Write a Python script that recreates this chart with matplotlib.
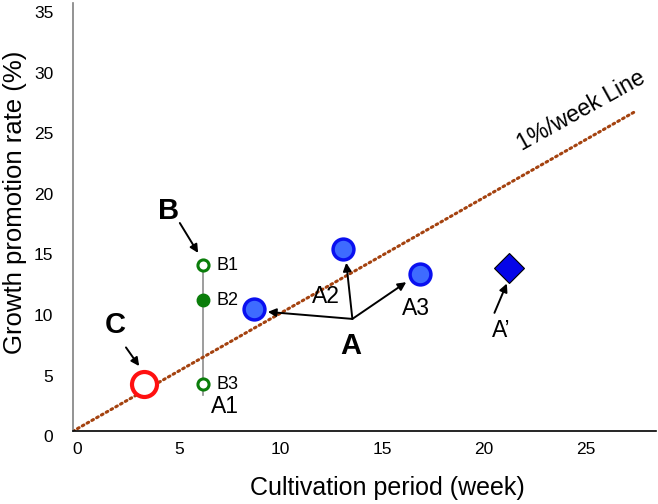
import matplotlib
matplotlib.use("Agg")
import matplotlib.pyplot as plt
from matplotlib.transforms import ScaledTranslation

plt.rcParams["font.family"] = ["Liberation Sans", "DejaVu Sans"]

# data
line_x = [0, 27.6]
line_y = [0, 26.3]

a_x = [8.9, 13.3, 17.1]
a_y = [10.05, 15.0, 13.0]
a_prime = (21.45, 13.5)

b_x = 6.42
b_y = [13.7, 10.8, 3.9]
b_labels = ["B1", "B2", "B3"]
b_range = (3.0, 13.7)

c_point = (3.5, 3.9)

x_ticks = [0, 5, 10, 15, 20, 25]
y_ticks = [0, 5, 10, 15, 20, 25, 30, 35]

fig = plt.figure(figsize=(6.58, 5.04), dpi=100)
ax = fig.add_axes([0.1105, 0.1442, 0.8865, 0.8493])

# 1%/week reference line
ax.plot(line_x, line_y, color="#a4420f", lw=2.2, linestyle=(0, (0.6, 1.2)),
        dash_capstyle="round", zorder=2)
ax.text(25.0, 26.4, "1%/week Line", rotation=29, ha="center", va="center",
        fontsize=16.5)

# B group
ax.plot([b_x, b_x], b_range, color="#8c8c8c", lw=1.2, zorder=1)
ax.plot(b_x, b_y[0], "o", ms=8, mfc="white", mec="#0a7d0a", mew=2.2, zorder=3)
ax.plot(b_x, b_y[1], "o", ms=9, mfc="#0a7d0a", mec="#0a7d0a", mew=1, zorder=3)
ax.plot(b_x, b_y[2], "o", ms=8, mfc="white", mec="#0a7d0a", mew=2.2, zorder=3)
for lab, yy in zip(b_labels, b_y):
    ax.text(b_x + 0.65, yy, lab, ha="left", va="center", fontsize=13)

# C point
ax.plot(*c_point, "o", ms=18, mfc="white", mec="#ff1010", mew=3, zorder=3)

# A group
ax.plot(a_x, a_y, "o", ms=15, mfc="#3e6bff", mec="#0a10f0", mew=2.5,
        linestyle="none", zorder=3)
ax.plot(*a_prime, "D", ms=15, mfc="#0505e8", mec="black", mew=0.8, zorder=3)

arrow = dict(arrowstyle="-|>", color="black", lw=1.4, mutation_scale=12,
             shrinkA=0, shrinkB=0)
origin = (13.76, 9.27)
for tx, ty in [(9.6, 9.85), (13.46, 13.9), (16.41, 12.3)]:
    ax.annotate("", xy=(tx, ty), xytext=origin, arrowprops=arrow)
ax.annotate("", xy=(21.36, 12.19), xytext=(20.75, 9.77), arrowprops=arrow)
ax.annotate("", xy=(6.17, 14.71), xytext=(5.27, 17.18), arrowprops=arrow)
ax.annotate("", xy=(3.27, 5.38), xytext=(2.62, 6.92), arrowprops=arrow)

ax.text(13.7, 7.05, "A", fontsize=21, fontweight="bold", ha="center", va="center")
ax.text(4.7, 18.17, "B", fontsize=21, fontweight="bold", ha="center", va="center")
ax.text(2.08, 8.76, "C", fontsize=21, fontweight="bold", ha="center", va="center")
ax.text(12.48, 11.09, "A2", fontsize=16.5, ha="center", va="center")
ax.text(16.9, 10.13, "A3", fontsize=16.5, ha="center", va="center")
ax.text(21.08, 8.34, "A\u2019", fontsize=16.5, ha="center", va="center")
ax.text(7.48, 2.03, "A1", fontsize=16.5, ha="center", va="center")

ax.set_xlim(0, 28.7)
ax.set_ylim(0, 35.3)
ax.set_xticks(x_ticks)
ax.set_yticks(y_ticks)
ax.tick_params(length=0, labelsize=12.5)
ax.tick_params(axis="x", pad=8)
ax.tick_params(axis="y", pad=14)

# tick labels sit slightly off their ticks, as in the original
dx = ScaledTranslation(4.5 / 100, 0, fig.dpi_scale_trans)
dy = ScaledTranslation(0, -5 / 100, fig.dpi_scale_trans)
for lab in ax.get_xticklabels():
    lab.set_transform(lab.get_transform() + dx)
for lab in ax.get_yticklabels():
    lab.set_transform(lab.get_transform() + dy)

ax.spines["top"].set_visible(False)
ax.spines["right"].set_visible(False)
ax.spines["left"].set_color("#808080")
ax.spines["left"].set_linewidth(1.2)
ax.spines["bottom"].set_color("black")
ax.spines["bottom"].set_linewidth(1.2)

ax.set_xlabel("Cultivation period (week)", fontsize=18)
ax.set_ylabel("Growth promotion rate (%)", fontsize=18.5)
ax.xaxis.set_label_coords(0.539, -0.105)
ax.yaxis.set_label_coords(-0.078, 0.535)

fig.savefig("out.png", dpi=100)
